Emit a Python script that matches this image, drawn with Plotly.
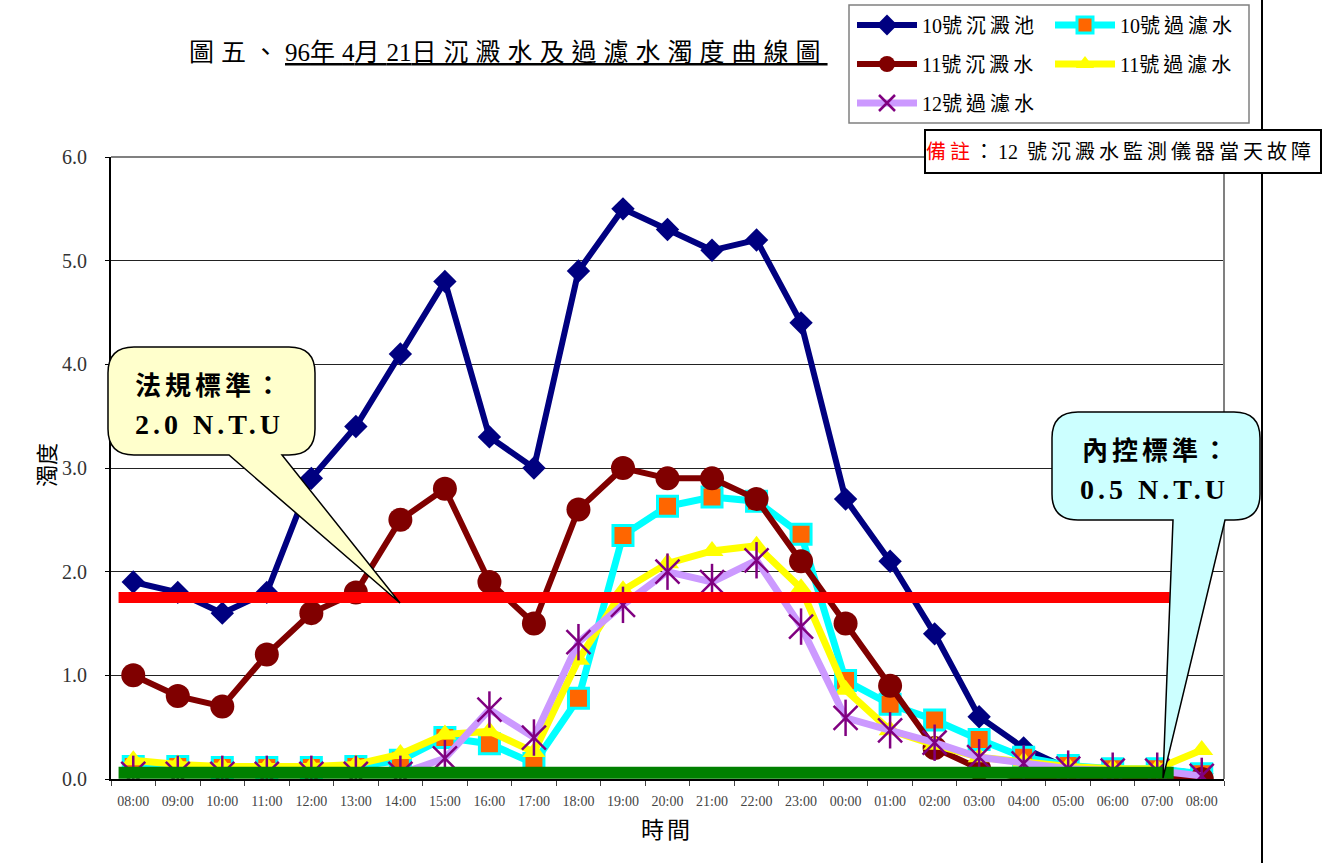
import plotly.graph_objects as go

# ---------------- data ----------------
times = ["08:00", "09:00", "10:00", "11:00", "12:00", "13:00", "14:00", "15:00",
         "16:00", "17:00", "18:00", "19:00", "20:00", "21:00", "22:00", "23:00",
         "00:00", "01:00", "02:00", "03:00", "04:00", "05:00", "06:00", "07:00", "08:00"]

sed_10 = [1.9, 1.8, 1.6, 1.8, 2.9, 3.4, 4.1, 4.8, 3.3, 3.0, 4.9, 5.5, 5.3, 5.1, 5.2, 4.4,
          2.7, 2.1, 1.4, 0.6, 0.3, 0.1, 0.1, 0.1, 0.05]
filt_10 = [0.12, 0.12, 0.11, 0.11, 0.11, 0.12, 0.18, 0.40, 0.34, 0.15, 0.78, 2.35, 2.63, 2.72,
           2.68, 2.36, 0.95, 0.72, 0.57, 0.38, 0.21, 0.13, 0.10, 0.10, 0.05]
sed_11 = [1.0, 0.8, 0.7, 1.2, 1.6, 1.8, 2.5, 2.8, 1.9, 1.5, 2.6, 3.0, 2.9, 2.9, 2.7, 2.1,
          1.5, 0.9, 0.3, 0.1, 0.0, 0.0, 0.0, 0.0, 0.0]
filt_11 = [0.18, 0.14, 0.12, 0.12, 0.12, 0.14, 0.24, 0.43, 0.46, 0.26, 1.15, 1.82, 2.08, 2.20,
           2.25, 1.84, 0.86, 0.47, 0.33, 0.21, 0.17, 0.12, 0.10, 0.10, 0.28]
filt_12 = [0.05, 0.05, 0.05, 0.05, 0.05, 0.05, 0.05, 0.20, 0.67, 0.40, 1.32, 1.68, 2.00, 1.90,
           2.11, 1.47, 0.59, 0.47, 0.35, 0.21, 0.15, 0.10, 0.08, 0.08, 0.03]

y_ticks = [0, 1, 2, 3, 4, 5, 6]

# decorative standard lines as drawn in the original (data units)
limit_line_y = 1.75
internal_line_y = 0.06

# ---------------- layout geometry ----------------
WIDTH, HEIGHT = 1334, 863
L, R, T, B = 111, 1224, 157, 779
PW, PH = R - L, B - T


def ppx(x):
    return (x - L) / PW


def ppy(y):
    return (B - y) / PH


SERIF = "Liberation Serif, Noto Sans CJK TC, serif"
CJK = "Noto Sans CJK TC, Liberation Serif, sans-serif"

x_idx = list(range(len(times)))


def sp(s, n=2):
    return f'<span style="letter-spacing:{n}px">{s}</span>'


def nd(s):
    return f'<span style="letter-spacing:0px">{s}</span>'


def lname(num, rest):
    return nd(num) + sp(rest, 4)


title_text = ("圖五、<u>" + nd("96") + "年" + nd("4") + "月" + nd("21") +
              "日沉澱水及過濾水濁度曲線圖</u>")
note_text = ('<span style="color:#FF0000">備註</span>：' + nd("12") + " 號沉澱水監測儀器當天故障")

fig = go.Figure()

fig.add_trace(go.Scatter(
    x=x_idx, y=sed_10, name=lname("10", "號沉澱池"), mode="lines+markers", legend="legend",
    line=dict(color="#000080", width=6),
    marker=dict(symbol="diamond", size=18, color="#000080")))
fig.add_trace(go.Scatter(
    x=x_idx, y=filt_10, name=lname("10", "號過濾水"), mode="lines+markers", legend="legend",
    line=dict(color="#00FFFF", width=7),
    marker=dict(symbol="square", size=20, color="#FF6600", line=dict(color="#00FFFF", width=3))))
fig.add_trace(go.Scatter(
    x=x_idx, y=sed_11, name=lname("11", "號沉澱水"), mode="lines+markers", legend="legend2",
    line=dict(color="#800000", width=6),
    marker=dict(symbol="circle", size=24, color="#800000")))
fig.add_trace(go.Scatter(
    x=x_idx, y=filt_11, name=lname("11", "號過濾水"), mode="lines+markers", legend="legend2",
    line=dict(color="#FFFF00", width=7),
    marker=dict(symbol="triangle-up", size=20, color="#FFFF00")))
fig.add_trace(go.Scatter(
    x=x_idx, y=filt_12, name=lname("12", "號過濾水"), mode="lines+markers", legend="legend3",
    line=dict(color="#CC99FF", width=7),
    marker=dict(symbol="x-thin-open", size=24, color="#800080", line=dict(color="#800080", width=2.5))))
fig.add_trace(go.Scatter(
    x=x_idx, y=filt_12, mode="markers", showlegend=False, hoverinfo="skip",
    marker=dict(symbol="line-ns-open", size=26, color="#800080", line=dict(color="#800080", width=2.5))))

shapes = []
# standard lines
shapes.append(dict(type="line", xref="x", yref="y", x0=-0.33, x1=23.28,
                   y0=limit_line_y, y1=limit_line_y, line=dict(color="#FF0000", width=11), layer="above"))
shapes.append(dict(type="line", xref="x", yref="y", x0=-0.33, x1=23.37,
                   y0=internal_line_y, y1=internal_line_y, line=dict(color="#008000", width=12), layer="above"))
# gray frame top/right
shapes.append(dict(type="line", xref="paper", yref="paper", x0=0, x1=1, y0=1, y1=1,
                   line=dict(color="#808080", width=2), layer="above"))
shapes.append(dict(type="line", xref="paper", yref="paper", x0=1, x1=1, y0=0, y1=1,
                   line=dict(color="#808080", width=2), layer="above"))
# page vertical line at right
shapes.append(dict(type="line", xref="paper", yref="paper", x0=ppx(1262), x1=ppx(1262),
                   y0=ppy(HEIGHT + 5), y1=ppy(-5), line=dict(color="black", width=2), layer="below"))
# legend box
shapes.append(dict(type="rect", xref="paper", yref="paper", x0=ppx(849), x1=ppx(1249),
                   y0=ppy(123), y1=ppy(5), line=dict(color="#808080", width=1.5),
                   fillcolor="white", layer="below"))


def callout_path(x0, y0, x1, y1, r, xa, xb, tx, ty):
    def P(x, y):
        return f"{ppx(x):.5f},{ppy(y):.5f}"
    d = (f"M{P(x0 + r, y0)} L{P(x1 - r, y0)} Q{P(x1, y0)} {P(x1, y0 + r)} "
         f"L{P(x1, y1 - r)} Q{P(x1, y1)} {P(x1 - r, y1)} L{P(xb, y1)} L{P(tx, ty)} "
         f"L{P(xa, y1)} L{P(x0 + r, y1)} Q{P(x0, y1)} {P(x0, y1 - r)} "
         f"L{P(x0, y0 + r)} Q{P(x0, y0)} {P(x0 + r, y0)} Z")
    return d


shapes.append(dict(type="path", xref="paper", yref="paper",
                   path=callout_path(108, 347, 315, 455, 26, 229, 282, 400, 603),
                   fillcolor="#FFFFCC", line=dict(color="black", width=1.5), layer="above"))
shapes.append(dict(type="path", xref="paper", yref="paper",
                   path=callout_path(1052, 412, 1260, 520, 26, 1173, 1225, 1163, 778),
                   fillcolor="#CCFFFF", line=dict(color="black", width=1.5), layer="above"))

annotations = []
annotations.append(dict(xref="paper", yref="paper", x=ppx(508), y=ppy(52), xanchor="center", yanchor="middle",
                        text=sp(title_text, 7), showarrow=False,
                        font=dict(family=SERIF, size=25, color="black")))
annotations.append(dict(xref="paper", yref="paper", x=ppx(1123), y=ppy(151.5), xanchor="center", yanchor="middle",
                        text=sp(note_text, 4),
                        showarrow=False, align="left", width=394, height=41,
                        bordercolor="black", borderwidth=2, borderpad=0, bgcolor="white",
                        font=dict(family=SERIF, size=20, color="black")))
# callout texts
annotations.append(dict(xref="paper", yref="paper", x=ppx(133), y=ppy(383), xanchor="left", yanchor="middle",
                        text=sp("<b>法規標準：</b>", 4), showarrow=False,
                        font=dict(family=CJK, size=26, color="black")))
annotations.append(dict(xref="paper", yref="paper", x=ppx(133), y=ppy(424), xanchor="left", yanchor="middle",
                        text=sp("<b>2.0 N.T.U</b>", 4), showarrow=False,
                        font=dict(family=SERIF, size=28, color="black")))
annotations.append(dict(xref="paper", yref="paper", x=ppx(1080), y=ppy(448), xanchor="left", yanchor="middle",
                        text=sp("<b>內控標準：</b>", 4), showarrow=False,
                        font=dict(family=CJK, size=26, color="black")))
annotations.append(dict(xref="paper", yref="paper", x=ppx(1078), y=ppy(489), xanchor="left", yanchor="middle",
                        text=sp("<b>0.5 N.T.U</b>", 4), showarrow=False,
                        font=dict(family=SERIF, size=28, color="black")))
# axis titles
annotations.append(dict(xref="paper", yref="paper", x=ppx(45), y=ppy(465), xanchor="center", yanchor="middle",
                        text="濁度", textangle=-90, showarrow=False,
                        font=dict(family=CJK, size=22, color="black")))
annotations.append(dict(xref="paper", yref="paper", x=ppx(667), y=ppy(828), xanchor="center", yanchor="middle",
                        text=sp("時間", 3), showarrow=False,
                        font=dict(family=CJK, size=23, color="black")))

legend_common = dict(orientation="h", xanchor="left", yanchor="middle", bgcolor="rgba(0,0,0,0)",
                     borderwidth=0, itemwidth=60, entrywidth=123, entrywidthmode="pixels",
                     font=dict(family=SERIF, size=20, color="black"), tracegroupgap=0,
                     itemclick=False, itemdoubleclick=False)

fig.update_layout(
    width=WIDTH, height=HEIGHT,
    margin=dict(l=L, r=WIDTH - R, t=T, b=HEIGHT - B, pad=0, autoexpand=False),
    paper_bgcolor="white", plot_bgcolor="white",
    showlegend=True,
    legend=dict(x=ppx(852), y=ppy(25), **legend_common),
    legend2=dict(x=ppx(852), y=ppy(64), **legend_common),
    legend3=dict(x=ppx(852), y=ppy(103), **legend_common),
    xaxis=dict(range=[-0.5, len(times) - 0.5], tickmode="array", tickvals=x_idx, ticktext=times,
               ticks="", showgrid=False, zeroline=False, showline=True, linecolor="black", linewidth=2,
               ticklabelstandoff=8,
               tickfont=dict(family="Liberation Serif", size=14, color="#444444"),
               minor=dict(ticks="outside", ticklen=5, tickcolor="#444444", tick0=0.5, dtick=1, showgrid=False),
               fixedrange=True),
    yaxis=dict(range=[0, 6], tickmode="array", tickvals=y_ticks, tickformat=".1f",
               ticks="outside", ticklen=4, tickcolor="black", ticklabelstandoff=14,
               showgrid=True, gridcolor="#222222", gridwidth=1, zeroline=False,
               showline=True, linecolor="black", linewidth=2,
               tickfont=dict(family="Liberation Serif", size=20, color="#333333"),
               fixedrange=True),
    shapes=shapes,
    annotations=annotations,
)

fig.write_html("out.html")
